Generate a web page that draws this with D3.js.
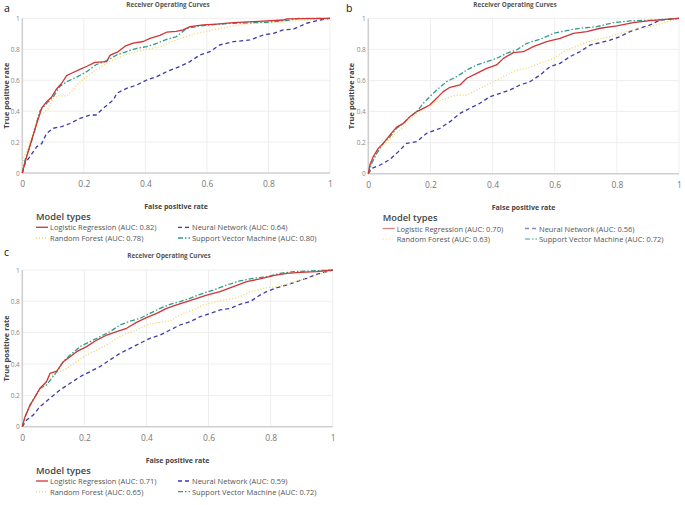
<!DOCTYPE html>
<html><head><meta charset="utf-8">
<script src="https://cdn.jsdelivr.net/npm/d3@7"></script>
<style>body{margin:0;background:#fff}svg{display:block}text{font-family:"Open Sans",sans-serif}</style>
</head><body>
<svg id="chart" width="685" height="505"></svg>
<script>
// ---------- DATA ----------
const modelNames = ["Logistic Regression","Random Forest","Neural Network","Support Vector Machine"];
const aucA = [0.82,0.78,0.64,0.80];
const aucB = [0.70,0.63,0.56,0.72];
const aucC = [0.71,0.65,0.59,0.72];
const tickValues = [0,0.2,0.4,0.6,0.8,1];
const tickLabels = ["0","0.2","0.4","0.6","0.8","1"];

// Panel a
const aLR = [[0,0],[0.014,0.105],[0.03,0.21],[0.047,0.32],[0.063,0.42],[0.079,0.46],[0.095,0.49],[0.11,0.54],[0.128,0.58],[0.144,0.63],[0.16,0.645],[0.187,0.67],[0.21,0.69],[0.236,0.715],[0.274,0.72],[0.285,0.76],[0.312,0.785],[0.334,0.82],[0.36,0.84],[0.393,0.85],[0.415,0.87],[0.447,0.89],[0.469,0.91],[0.5,0.915],[0.523,0.925],[0.545,0.946],[0.588,0.957],[0.632,0.963],[0.686,0.972],[0.75,0.978],[0.848,0.989],[0.86,0.996],[1,1]];
const aRF = [[0,0],[0.005,0.105],[0.02,0.17],[0.036,0.267],[0.052,0.375],[0.068,0.386],[0.085,0.418],[0.10,0.483],[0.117,0.498],[0.144,0.498],[0.16,0.526],[0.182,0.58],[0.209,0.623],[0.24,0.666],[0.274,0.709],[0.307,0.741],[0.35,0.774],[0.393,0.795],[0.447,0.817],[0.5,0.86],[0.556,0.897],[0.62,0.925],[0.686,0.95],[0.75,0.968],[0.827,0.974],[0.9,0.985],[1,1]];
const aNN = [[0,0],[0.009,0.063],[0.025,0.106],[0.047,0.17],[0.063,0.19],[0.079,0.256],[0.1,0.289],[0.128,0.30],[0.155,0.32],[0.187,0.353],[0.22,0.375],[0.24,0.375],[0.263,0.418],[0.296,0.472],[0.307,0.515],[0.339,0.547],[0.372,0.569],[0.404,0.601],[0.437,0.623],[0.469,0.655],[0.512,0.688],[0.545,0.72],[0.577,0.763],[0.61,0.784],[0.642,0.828],[0.686,0.849],[0.74,0.86],[0.783,0.892],[0.816,0.903],[0.848,0.925],[0.88,0.929],[0.924,0.968],[0.967,0.989],[1,1]];
const aSVM = [[0,0],[0.009,0.084],[0.025,0.17],[0.041,0.28],[0.057,0.40],[0.079,0.45],[0.10,0.49],[0.122,0.56],[0.144,0.59],[0.177,0.62],[0.209,0.655],[0.24,0.70],[0.274,0.726],[0.307,0.763],[0.339,0.785],[0.372,0.806],[0.404,0.817],[0.437,0.838],[0.469,0.864],[0.5,0.88],[0.534,0.935],[0.577,0.95],[0.632,0.961],[0.686,0.968],[0.794,0.974],[0.87,0.989],[0.9,1],[1,1]];

// Panel b
const bLR = [[0,0],[0.005,0.056],[0.016,0.11],[0.032,0.163],[0.048,0.195],[0.07,0.25],[0.091,0.30],[0.113,0.324],[0.134,0.367],[0.156,0.40],[0.177,0.42],[0.198,0.442],[0.22,0.485],[0.241,0.528],[0.263,0.556],[0.295,0.571],[0.317,0.614],[0.349,0.646],[0.381,0.678],[0.413,0.70],[0.435,0.742],[0.467,0.779],[0.499,0.785],[0.531,0.818],[0.574,0.85],[0.617,0.871],[0.66,0.903],[0.703,0.914],[0.746,0.936],[0.8,0.951],[0.853,0.972],[0.907,0.985],[1,1]];
const bRF = [[0,0],[0.011,0.067],[0.027,0.13],[0.048,0.185],[0.07,0.227],[0.102,0.281],[0.123,0.324],[0.156,0.388],[0.188,0.431],[0.22,0.464],[0.252,0.485],[0.284,0.506],[0.317,0.506],[0.349,0.539],[0.381,0.571],[0.413,0.603],[0.445,0.635],[0.477,0.667],[0.51,0.678],[0.553,0.71],[0.596,0.742],[0.638,0.796],[0.681,0.828],[0.724,0.86],[0.767,0.876],[0.81,0.903],[0.853,0.925],[0.896,0.942],[0.939,0.964],[1,1]];
const bNN = [[0,0],[0.011,0.034],[0.038,0.056],[0.07,0.092],[0.097,0.142],[0.123,0.195],[0.156,0.206],[0.188,0.26],[0.231,0.292],[0.263,0.335],[0.295,0.388],[0.327,0.421],[0.359,0.453],[0.392,0.496],[0.424,0.517],[0.456,0.539],[0.488,0.571],[0.52,0.592],[0.553,0.635],[0.585,0.689],[0.617,0.71],[0.649,0.753],[0.681,0.785],[0.714,0.828],[0.746,0.843],[0.778,0.86],[0.81,0.882],[0.842,0.914],[0.874,0.936],[0.907,0.957],[0.939,0.989],[1,1]];
const bSVM = [[0,0],[0.011,0.067],[0.027,0.13],[0.048,0.195],[0.07,0.238],[0.091,0.292],[0.113,0.324],[0.134,0.367],[0.156,0.40],[0.177,0.453],[0.198,0.496],[0.22,0.539],[0.252,0.592],[0.284,0.624],[0.317,0.667],[0.349,0.70],[0.381,0.721],[0.413,0.742],[0.445,0.775],[0.477,0.796],[0.51,0.839],[0.553,0.865],[0.596,0.903],[0.638,0.921],[0.681,0.936],[0.735,0.946],[0.789,0.972],[0.842,0.983],[0.928,0.989],[1,1]];

// Panel c
const cLR = [[0,0],[0.009,0.064],[0.025,0.138],[0.041,0.191],[0.057,0.245],[0.078,0.287],[0.089,0.34],[0.111,0.355],[0.132,0.415],[0.154,0.447],[0.175,0.479],[0.207,0.511],[0.24,0.553],[0.272,0.585],[0.304,0.606],[0.336,0.628],[0.368,0.666],[0.40,0.696],[0.433,0.723],[0.465,0.755],[0.497,0.777],[0.53,0.798],[0.562,0.819],[0.594,0.84],[0.637,0.862],[0.68,0.894],[0.723,0.926],[0.766,0.943],[0.809,0.964],[0.852,0.979],[0.895,0.985],[0.948,0.989],[1,1]];
const cRF = [[0,0],[0.009,0.064],[0.025,0.128],[0.046,0.202],[0.068,0.266],[0.089,0.319],[0.111,0.34],[0.143,0.372],[0.175,0.415],[0.207,0.457],[0.24,0.489],[0.272,0.521],[0.304,0.564],[0.336,0.596],[0.368,0.617],[0.40,0.649],[0.433,0.664],[0.476,0.674],[0.497,0.702],[0.519,0.723],[0.551,0.745],[0.583,0.777],[0.626,0.798],[0.669,0.815],[0.701,0.83],[0.734,0.862],[0.777,0.883],[0.82,0.894],[0.852,0.909],[0.895,0.936],[0.938,0.957],[1,1]];
const cNN = [[0,0],[0.014,0.043],[0.035,0.074],[0.057,0.128],[0.089,0.181],[0.121,0.234],[0.154,0.277],[0.186,0.319],[0.218,0.351],[0.25,0.383],[0.282,0.426],[0.315,0.468],[0.347,0.50],[0.379,0.532],[0.411,0.564],[0.444,0.585],[0.476,0.617],[0.508,0.649],[0.54,0.67],[0.573,0.702],[0.605,0.723],[0.637,0.745],[0.669,0.755],[0.701,0.781],[0.734,0.798],[0.766,0.84],[0.787,0.862],[0.82,0.887],[0.852,0.904],[0.884,0.926],[0.916,0.947],[0.948,0.972],[1,1]];
const cSVM = [[0,0],[0.009,0.064],[0.025,0.138],[0.041,0.191],[0.057,0.245],[0.078,0.266],[0.095,0.309],[0.111,0.351],[0.132,0.415],[0.154,0.457],[0.186,0.511],[0.218,0.543],[0.25,0.574],[0.282,0.606],[0.315,0.649],[0.347,0.674],[0.379,0.691],[0.411,0.723],[0.444,0.755],[0.476,0.781],[0.508,0.798],[0.54,0.819],[0.573,0.845],[0.615,0.872],[0.658,0.904],[0.701,0.93],[0.744,0.947],[0.787,0.957],[0.83,0.979],[0.873,0.989],[1,1]];

// ---------- STYLE ----------
const colors = ["#cf3535","#f2d35c","#3b3bab","#2e9c8c"];
const dashes = [null,"1,2","4,3","5,2,1.5,2"];

const svg = d3.select("#chart");

const panels = [
  {label:"a", curves:[aLR,aRF,aNN,aSVM], auc:aucA, x0:22.3, x1:330, y0:173, y1:18.3,
   labelX:4, labelY:12, titleX:168, titleY:6.5, yTitleX:6, legX:36, fprY:206, mtY:216.5, rowY:[227.3,238], col2X:178, legendOpacity:1},
  {label:"b", curves:[bLR,bRF,bNN,bSVM], auc:aucB, x0:368.3, x1:679, y0:173.7, y1:18.3,
   labelX:346, labelY:12, titleX:515, titleY:6.5, yTitleX:351, legX:382.7, fprY:207, mtY:217.5, rowY:[228.5,239], col2X:525, legendOpacity:0.6},
  {label:"c", curves:[cLR,cRF,cNN,cSVM], auc:aucC, x0:22.3, x1:332.7, y0:426.7, y1:270,
   labelX:4, labelY:256, titleX:169, titleY:258, yTitleX:6, legX:36, fprY:460, mtY:470.3, rowY:[481,491.7], col2X:178, legendOpacity:1}
];

panels.forEach(p => {
  const x = d3.scaleLinear().domain([0,1]).range([p.x0,p.x1]);
  const y = d3.scaleLinear().domain([0,1]).range([p.y0,p.y1]);
  const g = svg.append("g");

  // gridlines
  g.selectAll(".vg").data(tickValues.filter(v=>v>0)).join("line")
    .attr("x1",d=>x(d)).attr("x2",d=>x(d)).attr("y1",p.y0).attr("y2",p.y1)
    .attr("stroke","#eeeeee").attr("stroke-width",1);
  g.selectAll(".hg").data(tickValues.filter(v=>v>0)).join("line")
    .attr("x1",p.x0).attr("x2",p.x1).attr("y1",d=>y(d)).attr("y2",d=>y(d))
    .attr("stroke","#eeeeee").attr("stroke-width",1);

  // zero lines
  g.append("line").attr("x1",p.x0).attr("x2",p.x1).attr("y1",p.y0).attr("y2",p.y0)
    .attr("stroke","#cfcfcf").attr("stroke-width",1.6);
  g.append("line").attr("x1",p.x0).attr("x2",p.x0).attr("y1",p.y0).attr("y2",p.y1)
    .attr("stroke","#cfcfcf").attr("stroke-width",1.6);

  // axes tick labels via d3 axes
  const xAxis = d3.axisBottom(x).tickValues(tickValues).tickFormat((d,i)=>tickLabels[i]).tickSize(0).tickPadding(8);
  const gx = g.append("g").attr("transform",`translate(0,${p.y0})`).call(xAxis);
  gx.select(".domain").remove();
  gx.selectAll("text").attr("font-family","Open Sans").attr("font-size",8.5).attr("fill","#777");
  const yAxis = d3.axisLeft(y).tickValues(tickValues).tickFormat((d,i)=>tickLabels[i]).tickSize(0).tickPadding(2.5);
  const gy = g.append("g").attr("transform",`translate(${p.x0},0)`).call(yAxis);
  gy.select(".domain").remove();
  gy.selectAll("text").attr("font-family","Open Sans").attr("font-size",6.5).attr("fill","#888");

  // curves
  const line = d3.line().x(d=>x(d[0])).y(d=>y(d[1]));
  const order = [2,1,3,0];
  order.forEach(i => {
    g.append("path").datum(p.curves[i]).attr("d",line)
      .attr("fill","none").attr("stroke",colors[i]).attr("stroke-width",1.3)
      .attr("stroke-dasharray",dashes[i]).attr("stroke-linejoin","round");
  });

  // panel label
  svg.append("text").attr("x",p.labelX).attr("y",p.labelY).text(p.label)
    .attr("font-family","Liberation Sans, Arial, sans-serif").attr("font-size",10.5).attr("fill","#111");
  // title
  svg.append("text").attr("x",p.titleX).attr("y",p.titleY).attr("text-anchor","middle")
    .text("Receiver Operating Curves").attr("font-size",6.3).attr("font-weight",700).attr("fill","#555");
  // y title
  svg.append("text").attr("transform",`translate(${p.yTitleX},${(p.y0+p.y1)/2}) rotate(-90)`)
    .attr("text-anchor","middle").attr("dominant-baseline","central")
    .text("True positive rate").attr("font-size",7.5).attr("font-weight",700).attr("fill","#444");
  // x title
  svg.append("text").attr("x",(p.x0+p.x1)/2).attr("y",p.fprY).attr("text-anchor","middle").attr("dominant-baseline","central")
    .text("False positive rate").attr("font-size",7).attr("font-weight",700).attr("fill","#444");
  // legend
  svg.append("text").attr("x",p.legX).attr("y",p.mtY).attr("dominant-baseline","central")
    .text("Model types").attr("font-size",9.3).attr("font-weight",600).attr("fill","#444");
  const pos = [[p.legX,p.rowY[0]],[p.legX,p.rowY[1]],[p.col2X,p.rowY[0]],[p.col2X,p.rowY[1]]];
  modelNames.forEach((m,i) => {
    const [lx,ly] = pos[i];
    svg.append("line").attr("x1",lx).attr("x2",lx+12).attr("y1",ly).attr("y2",ly)
      .attr("stroke",colors[i]).attr("stroke-width",1.3).attr("stroke-dasharray",dashes[i])
      .attr("opacity",p.legendOpacity);
    svg.append("text").attr("x",lx+14).attr("y",ly).attr("dominant-baseline","central")
      .text(`${m} (AUC: ${p.auc[i].toFixed(2)})`).attr("font-size",7.5).attr("fill","#555");
  });
});
</script>
</body></html>
